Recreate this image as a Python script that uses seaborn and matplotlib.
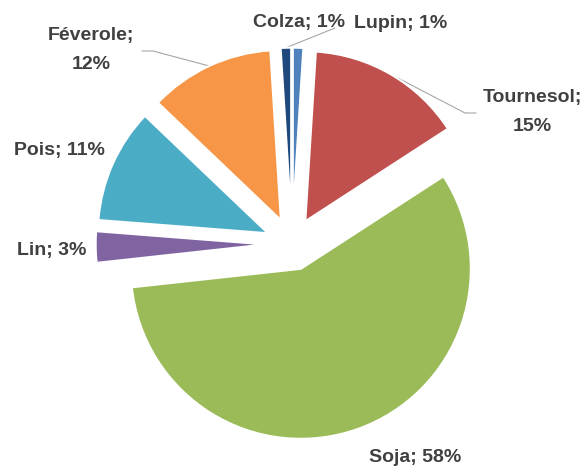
import numpy as np
import matplotlib
matplotlib.use("Agg")
import matplotlib.pyplot as plt
import seaborn as sns

# Données (ordre horaire à partir de midi)
cultures = ["Lupin", "Tournesol", "Soja", "Lin", "Pois", "Féverole", "Colza"]
parts = [1, 15, 58, 3, 11, 12, 1]
couleurs = ["#4F81BD", "#C0504D", "#9BBB59", "#8064A2", "#4BACC6", "#F79646", "#1F497D"]

# Mise en page (pixels de l'image)
W, H = 586, 466
CX, CY, R = 292, 244, 170
explosion = 0.155

# position des étiquettes (px) ; texte sur une ou deux lignes
etiquettes = {
    "Lupin": ((401, 23), False),
    "Tournesol": ((532, 112), True),
    "Soja": ((415, 457), False),
    "Lin": ((52, 250), False),
    "Pois": ((59, 151), False),
    "Féverole": ((91, 50), True),
    "Colza": ((299, 23), False),
}
# lignes de rappel : points intermédiaires (px)
rappels = {
    "Féverole": [(153, 51), (142, 51)],
    "Tournesol": [(465, 113), (476, 113)],
    "Colza": [(335, 28)],
}

sns.set_theme(style="white")
plt.rcParams["font.family"] = ["Liberation Sans", "DejaVu Sans"]


def px(x, y):
    return (x - CX) / R, (CY - y) / R


fig = plt.figure(figsize=(W / 100, H / 100), dpi=100)
ax = fig.add_axes([0, 0, 1, 1])
palette = sns.color_palette(couleurs)

wedges, _ = ax.pie(
    parts,
    colors=palette,
    startangle=90,
    counterclock=False,
    explode=[explosion] * len(parts),
    radius=1,
    wedgeprops=dict(linewidth=1.5, edgecolor="white"),
)

ax.set_xlim(-CX / R, (W - CX) / R)
ax.set_ylim(-(H - CY) / R, CY / R)
ax.set_aspect("equal")
ax.axis("off")

for w, nom, val in zip(wedges, cultures, parts):
    (lx, ly), deux_lignes = etiquettes[nom]
    sep = "\n" if deux_lignes else " "
    ax.text(*px(lx, ly), f"{nom};{sep}{val}%", ha="center", va="center",
            fontsize=14, fontweight="bold", color="#404040", linespacing=1.9)
    if nom in rappels:
        th = np.deg2rad((w.theta1 + w.theta2) / 2)
        x0 = w.center[0] + w.r * np.cos(th)
        y0 = w.center[1] + w.r * np.sin(th)
        pts = [(x0, y0)] + [px(a, b) for a, b in rappels[nom]]
        xs, ys = zip(*pts)
        ax.plot(xs, ys, color="#A6A6A6", lw=0.8, zorder=0.5)

fig.savefig("out.png", dpi=100)
